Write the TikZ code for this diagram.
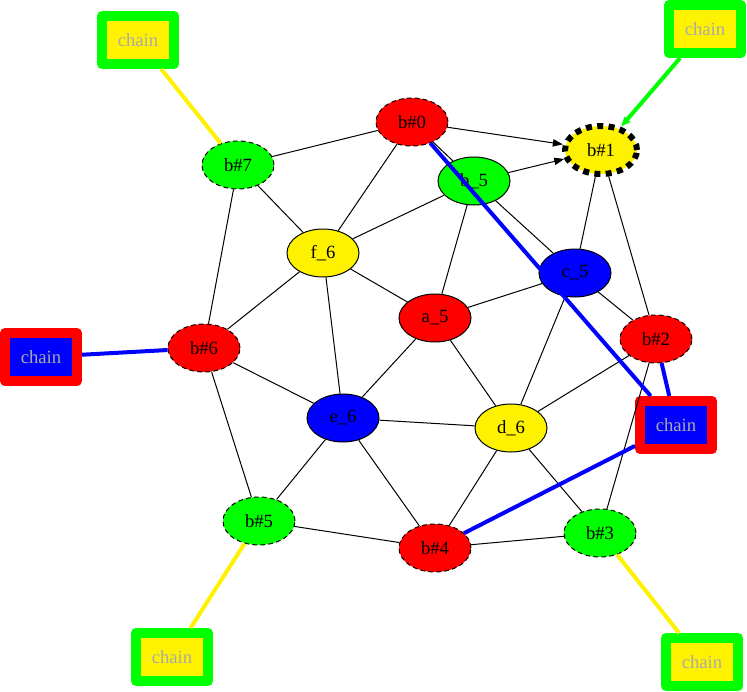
\documentclass[tikz,border=0pt]{standalone}
\usepackage{fontspec}
\setmainfont{Liberation Serif}
\usetikzlibrary{shapes.geometric,arrows.meta}
\definecolor{chaintext}{RGB}{170,170,170}
\begin{document}
\begin{tikzpicture}[x=0.75pt,y=-0.75pt,>={Triangle[length=7.5pt,width=5.5pt]},
every node/.style={font=\fontsize{14}{16}\selectfont},
vtx/.style={ellipse,draw,minimum width=54pt,minimum height=36pt,inner sep=0pt,line width=0.75pt},
bnd/.style={vtx,dash pattern=on 3.5pt off 2.5pt},
chainbox/.style={rectangle,draw,line join=round,minimum width=54pt,minimum height=36pt,line width=7.5pt,text=chaintext,inner sep=0pt},
bond/.style={line width=0.75pt},
hook/.style={line width=3pt}]
\useasboundingbox (0,0) rectangle (747,692);
% vertices
\node[bnd,fill=red] (b0) at (412,122) {b\#0};
\node[vtx,fill=yellow,line width=4.5pt,dash pattern=on 4.5pt off 4pt] (b1) at (601,150) {b\#1};
\node[bnd,fill=red] (b2) at (656,339) {b\#2};
\node[bnd,fill=green] (b3) at (600,533) {b\#3};
\node[bnd,fill=red] (b4) at (435,548) {b\#4};
\node[bnd,fill=green] (b5) at (259,521) {b\#5};
\node[bnd,fill=red] (b6) at (204,348) {b\#6};
\node[bnd,fill=green] (b7) at (238,165) {b\#7};
\node[vtx,fill=green] (b5n) at (474,181) {b\_5};
\node[vtx,fill=blue] (c5) at (575,273) {c\_5};
\node[vtx,fill=yellow] (f6) at (323,253) {f\_6};
\node[vtx,fill=red] (a5) at (435,318) {a\_5};
\node[vtx,fill=blue] (e6) at (343,418) {e\_6};
\node[vtx,fill=yellow] (d6) at (511,428) {d\_6};
% chains
\node[chainbox,draw=green,fill=yellow] (chainTL) at (138,40) {chain};
\node[chainbox,draw=green,fill=yellow] (chainTR) at (705,29) {chain};
\node[chainbox,draw=red,fill=blue] (chainL) at (41,357) {chain};
\node[chainbox,draw=red,fill=blue] (chainR) at (676,425) {chain};
\node[chainbox,draw=green,fill=yellow] (chainBL) at (172,657) {chain};
\node[chainbox,draw=green,fill=yellow] (chainBR) at (702,662) {chain};
% bonds
\draw[bond,->] (b0)--(b1);
\draw[bond,->] (b5n)--(b1);
\draw[bond] (b0)--(b7) (b0)--(f6) (b0)--(b5n) (b1)--(c5) (b1)--(b2);
\draw[bond] (b5n)--(f6) (b5n)--(a5) (b5n)--(c5) (c5)--(a5) (c5)--(b2) (c5)--(d6);
\draw[bond] (b2)--(d6) (b2)--(b3) (f6)--(b7) (f6)--(a5) (f6)--(b6) (f6)--(e6);
\draw[bond] (a5)--(e6) (a5)--(d6) (b6)--(b7) (b6)--(e6) (b6)--(b5);
\draw[bond] (e6)--(d6) (e6)--(b5) (e6)--(b4) (d6)--(b4) (d6)--(b3);
\draw[bond] (b5)--(b4) (b4)--(b3);
% chain links
\draw[hook,green,->] (chainTR)--(b1);
\draw[hook,yellow] (chainTL)--(b7) (chainBL)--(b5) (chainBR)--(b3);
\draw[hook,blue] (chainL)--(b6) (chainR)--(b2) (chainR)--(b0) (chainR)--(b4);
\end{tikzpicture}
\end{document}
